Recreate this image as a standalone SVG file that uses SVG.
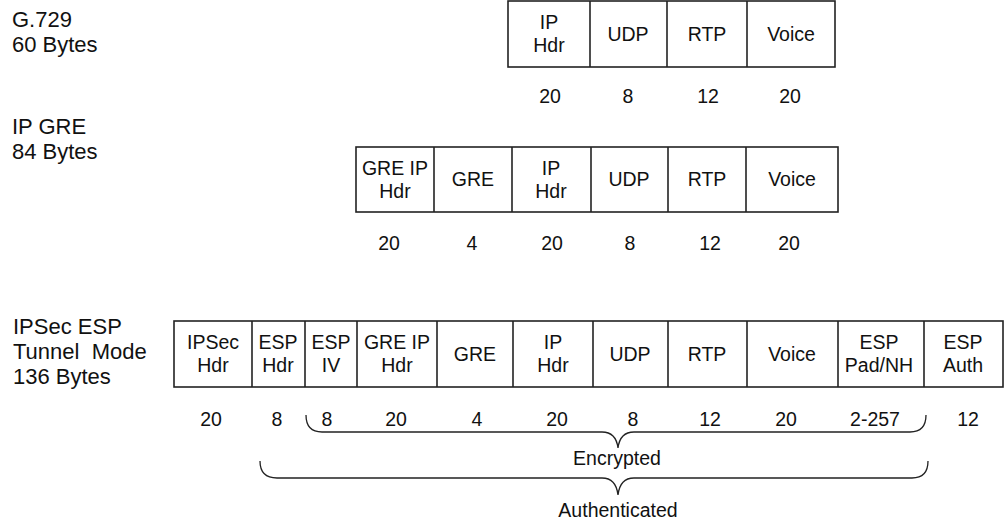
<svg xmlns="http://www.w3.org/2000/svg" width="1004" height="524" viewBox="0 0 1004 524">
<style>
text{font-family:"Liberation Sans",Arial,Helvetica,sans-serif;font-size:19.5px;fill:#111}
.c{text-anchor:middle}
.lbl{font-size:22px}
.box{fill:#fff;stroke:#222;stroke-width:1.6}
.div{stroke:#222;stroke-width:1.6}
.brace{fill:none;stroke:#222;stroke-width:1.3}
</style>
<rect width="1004" height="524" fill="#fff"/>
<g id="labels">
<text class="lbl" x="12" y="27">G.729</text>
<text class="lbl" x="12" y="52">60 Bytes</text>
<text class="lbl" x="12" y="134">IP GRE</text>
<text class="lbl" x="12" y="159">84 Bytes</text>
<text class="lbl" x="13" y="334">IPSec ESP</text>
<text class="lbl" x="13" y="359" xml:space="preserve">Tunnel  Mode</text>
<text class="lbl" x="13" y="384">136 Bytes</text>
</g>
<g id="row-g729">
<rect class="box" x="508" y="1" width="327" height="66"/>
<line class="div" x1="590" y1="1" x2="590" y2="67"/>
<line class="div" x1="667" y1="1" x2="667" y2="67"/>
<line class="div" x1="747" y1="1" x2="747" y2="67"/>
<text class="c" x="549" y="29">IP</text><text class="c" x="549" y="52">Hdr</text>
<text class="c" x="628" y="41">UDP</text>
<text class="c" x="707" y="41">RTP</text>
<text class="c" x="791" y="41">Voice</text>
<text class="c" x="550" y="103">20</text>
<text class="c" x="628" y="103">8</text>
<text class="c" x="708" y="103">12</text>
<text class="c" x="790" y="103">20</text>
</g>
<g id="row-ipgre">
<rect class="box" x="356" y="147" width="482" height="65"/>
<line class="div" x1="434" y1="147" x2="434" y2="212"/>
<line class="div" x1="512" y1="147" x2="512" y2="212"/>
<line class="div" x1="591" y1="147" x2="591" y2="212"/>
<line class="div" x1="668" y1="147" x2="668" y2="212"/>
<line class="div" x1="746" y1="147" x2="746" y2="212"/>
<text class="c" x="395" y="175">GRE IP</text><text class="c" x="395" y="198">Hdr</text>
<text class="c" x="473" y="186">GRE</text>
<text class="c" x="551" y="175">IP</text><text class="c" x="551" y="198">Hdr</text>
<text class="c" x="629" y="186">UDP</text>
<text class="c" x="707" y="186">RTP</text>
<text class="c" x="792" y="186">Voice</text>
<text class="c" x="389" y="250">20</text>
<text class="c" x="472" y="250">4</text>
<text class="c" x="552" y="250">20</text>
<text class="c" x="630" y="250">8</text>
<text class="c" x="710" y="250">12</text>
<text class="c" x="789" y="250">20</text>
</g>
<g id="row-ipsec">
<rect class="box" x="174" y="321" width="829" height="66"/>
<line class="div" x1="252" y1="321" x2="252" y2="387"/>
<line class="div" x1="305" y1="321" x2="305" y2="387"/>
<line class="div" x1="357" y1="321" x2="357" y2="387"/>
<line class="div" x1="437" y1="321" x2="437" y2="387"/>
<line class="div" x1="513" y1="321" x2="513" y2="387"/>
<line class="div" x1="593" y1="321" x2="593" y2="387"/>
<line class="div" x1="668" y1="321" x2="668" y2="387"/>
<line class="div" x1="747" y1="321" x2="747" y2="387"/>
<line class="div" x1="838" y1="321" x2="838" y2="387"/>
<line class="div" x1="924" y1="321" x2="924" y2="387"/>
<text class="c" x="213" y="349">IPSec</text><text class="c" x="213" y="372">Hdr</text>
<text class="c" x="278" y="349">ESP</text><text class="c" x="278" y="372">Hdr</text>
<text class="c" x="331" y="349">ESP</text><text class="c" x="331" y="372">IV</text>
<text class="c" x="397" y="349">GRE IP</text><text class="c" x="397" y="372">Hdr</text>
<text class="c" x="475" y="361">GRE</text>
<text class="c" x="553" y="349">IP</text><text class="c" x="553" y="372">Hdr</text>
<text class="c" x="630" y="361">UDP</text>
<text class="c" x="707" y="361">RTP</text>
<text class="c" x="792" y="361">Voice</text>
<text class="c" x="879" y="349">ESP</text><text class="c" x="879" y="372">Pad/NH</text>
<text class="c" x="963" y="349">ESP</text><text class="c" x="963" y="372">Auth</text>
<text class="c" x="211" y="426">20</text>
<text class="c" x="277" y="426">8</text>
<text class="c" x="327" y="426">8</text>
<text class="c" x="396" y="426">20</text>
<text class="c" x="477" y="426">4</text>
<text class="c" x="557" y="426">20</text>
<text class="c" x="633" y="426">8</text>
<text class="c" x="710" y="426">12</text>
<text class="c" x="786" y="426">20</text>
<text class="c" x="875" y="426">2-257</text>
<text class="c" x="968" y="426">12</text>
</g>
<g id="connectors">
<path class="brace" d="M306,415 Q306,432 322,432 L602,432 Q616,432 618,448 Q620,432 634,432 L910,432 Q926,432 926,415"/>
<path class="brace" d="M260,461 Q260,478 277,478 L602,478 Q616,478 618,495 Q620,478 634,478 L912,478 Q928,478 928,461"/>
</g>
<g id="brace-labels">
<text class="c" x="617" y="465">Encrypted</text>
<text class="c" x="618" y="517">Authenticated</text>
</g>
</svg>
